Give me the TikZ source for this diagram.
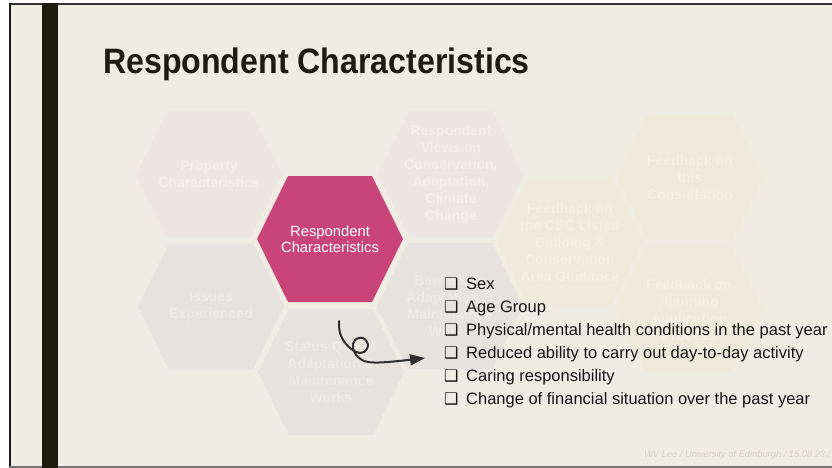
\documentclass[tikz,border=0pt]{standalone}
\usepackage{fontspec}
\setmainfont{Liberation Sans}
\newfontfamily\dejavu{DejaVu Sans}
\newfontfamily\titlefont{Liberation Sans}[FakeStretch=0.91]
\usetikzlibrary{arrows.meta}
\definecolor{bgc}{HTML}{EFECE4}
\definecolor{barc}{HTML}{1C1C0E}
\definecolor{titlec}{HTML}{1C1C10}
\definecolor{pinkc}{HTML}{C94578}
\definecolor{lpinkc}{HTML}{EDE6E0}
\definecolor{lpinkt}{HTML}{F3EEE9}
\definecolor{grayc}{HTML}{E6E2DE}
\definecolor{grayt}{HTML}{EEEBE7}
\definecolor{yelc}{HTML}{EFEADB}
\definecolor{yelt}{HTML}{F4F0E6}
\definecolor{textc}{HTML}{151515}
\definecolor{arrowc}{HTML}{2E2E2E}
\definecolor{footc}{HTML}{D6D2C9}
\newcommand\chk{\makebox[22pt][l]{\dejavu\bfseries\fontsize{16}{16}\selectfont ❑}}
\begin{document}
\begin{tikzpicture}[x=1pt,y=-1pt,
  hexpic/.pic={\fill[pic actions] (-73,0) -- (-42,-63) -- (42,-63) -- (73,0) -- (42,63) -- (-42,63) -- cycle;},
  hextext/.style={align=center,font=\fontsize{14}{17}\selectfont\bfseries,inner sep=0pt},
  listitem/.style={anchor=base west,inner sep=0pt,font=\fontsize{16.5}{19}\selectfont,text=textc}]
\useasboundingbox (0,0) rectangle (832,468);
\clip (0,0) rectangle (832,468);
\fill[white] (0,0) rectangle (832,468);
\fill[bgc] (11,5) rectangle (832,466);
\fill[black!80] (9,3) rectangle (832,5);
\fill[black!90] (9,3) rectangle (11,468);
\fill[black!55] (9,466) rectangle (832,468);
\fill[barc] (42,3) rectangle (58,468);
\node[anchor=base west,inner sep=0pt,font=\titlefont\fontsize{35.3}{38}\selectfont\bfseries,text=titlec] (title) at (103,74) {Respondent Characteristics};
% hexagons
\pic[fill=lpinkc] at (209,174.5) {hexpic};
\pic[fill=grayc] at (211,306.5) {hexpic};
\pic[fill=pinkc] at (330,239) {hexpic};
\pic[fill=grayc] at (331,372) {hexpic};
\pic[fill=lpinkc] at (451,174.5) {hexpic};
\pic[fill=grayc] at (450,306) {hexpic};
\pic[fill=yelc] at (570,242) {hexpic};
\pic[fill=yelc] at (690,177) {hexpic};
\pic[fill=yelc] at (689,309.5) {hexpic};
\node[hextext,text=lpinkt] (hprop) at (209,174.5) {Property\\Characteristics};
\node[hextext,text=grayt] (hiss) at (211,306.5) {Issues\\Experienced};
\node[hextext,text=white,font=\fontsize{14.8}{16}\selectfont] (hresp) at (330,239) {Respondent\\Characteristics};
\node[hextext,text=grayt] (hstat) at (331,372) {Status Quo of\\Adaptation \&\\Maintenance\\Works};
\node[hextext,text=lpinkt] (hview) at (451,174.5) {Respondent\\Views on\\Conservation,\\Adaptation,\\Climate\\Change};
\node[hextext,text=grayt] (hbar) at (450,306) {Barriers to\\Adaptation \&\\Maintenance\\Works};
\node[hextext,text=yelt] (hcec) at (570,242) {Feedback on\\the CEC Listed\\Building \&\\Conservation\\Area Guidance};
\node[hextext,text=yelt] (hcons) at (690,177) {Feedback on\\this\\Consultation};
\node[hextext,text=yelt] (hplan) at (689,309.5) {Feedback on\\Planning\\Application\\Process};
% list
\node[listitem] (i1) at (444,289.5) {\chk Sex};
\node[listitem] (i2) at (444,312.5) {\chk Age Group};
\node[listitem] (i3) at (444,335.5) {\chk Physical/mental health conditions in the past year};
\node[listitem] (i4) at (444,358.5) {\chk Reduced ability to carry out day-to-day activity};
\node[listitem] (i5) at (444,381.5) {\chk Caring responsibility};
\node[listitem] (i6) at (444,404.5) {\chk Change of financial situation over the past year};
% arrow
\coordinate (astart) at (339,321);
\coordinate (aend) at (425,358);
\draw[arrowc,line width=2pt,line cap=round,-{Triangle[length=15pt,width=11pt]}]
  plot[smooth,tension=0.6] coordinates {(astart) (340,333) (346,344) (356,352) (364,352) (368,345) (363,338) (355,340) (353,348) (358,357) (368,362) (388,362) (aend)};
\node[anchor=base west,inner sep=0pt,font=\fontsize{9.3}{11}\selectfont\itshape,text=footc] (foot) at (644,457) {WV Lee / University of Edinburgh / 15.08.23 / 17};
\end{tikzpicture}
\end{document}
